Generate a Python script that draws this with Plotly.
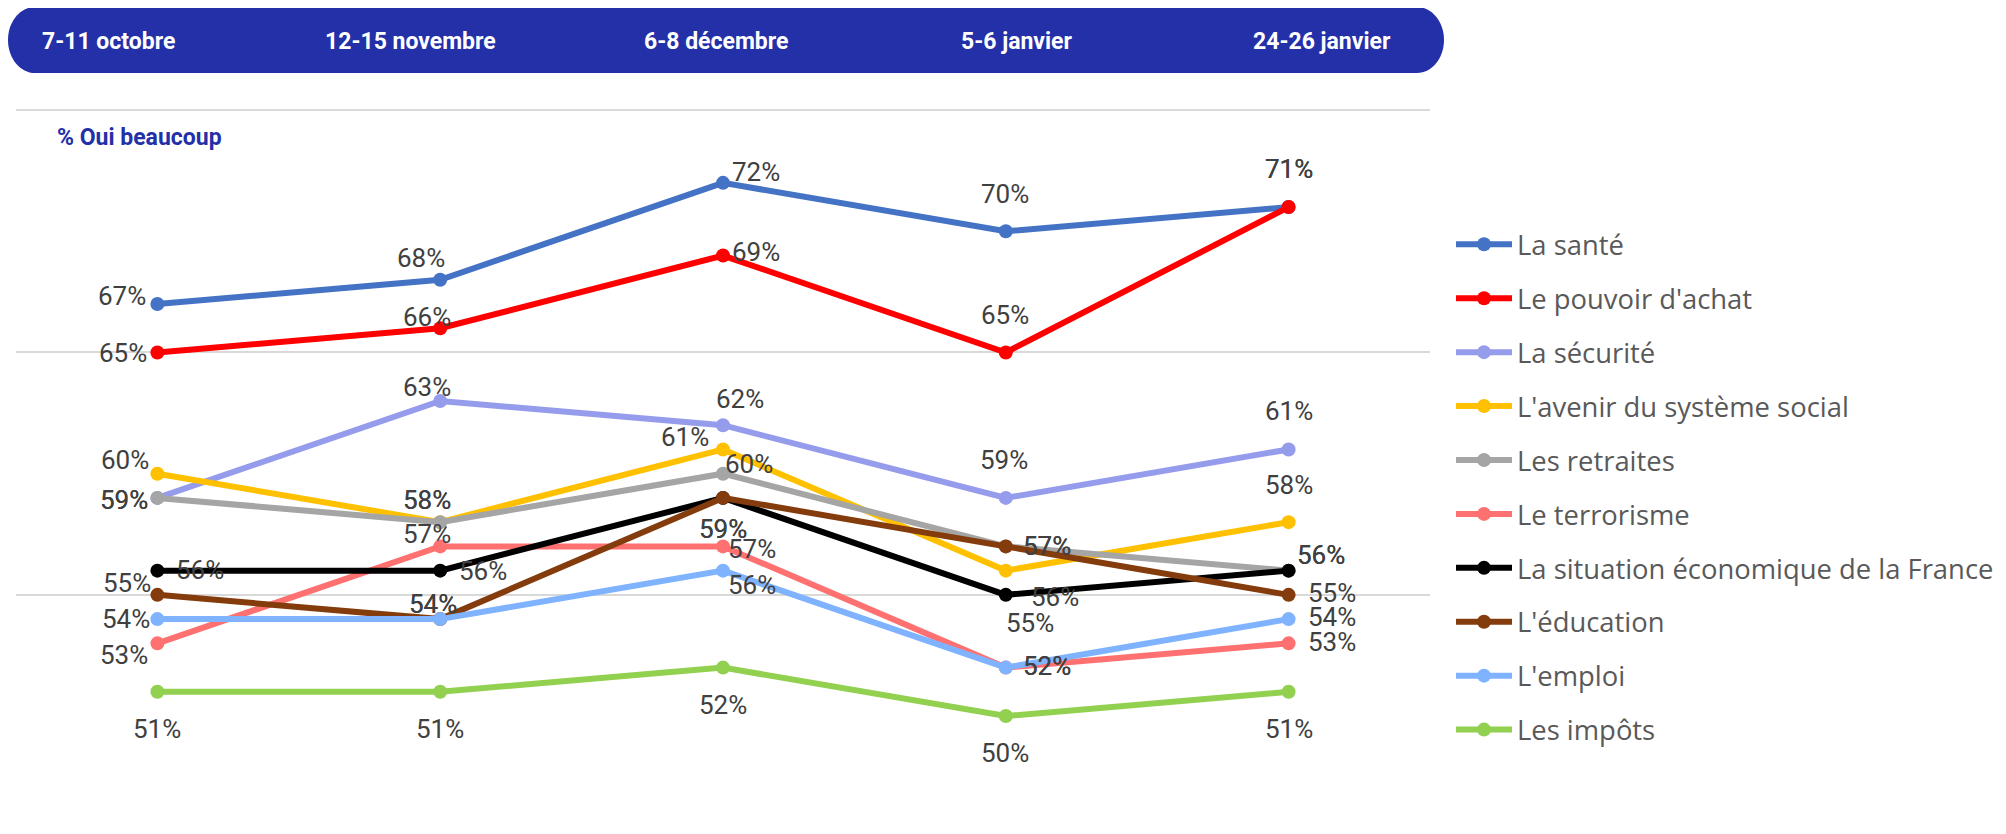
import plotly.graph_objects as go

# ---------------- data ----------------
categories = ["7-11 octobre", "12-15 novembre", "6-8 décembre", "5-6 janvier", "24-26 janvier"]
series_names = ["La santé", "Le pouvoir d'achat", "La sécurité", "L'avenir du système social",
                "Les retraites", "Le terrorisme", "La situation économique de la France",
                "L'éducation", "L'emploi", "Les impôts"]
sante = [67, 68, 72, 70, 71]
pouvoir_achat = [65, 66, 69, 65, 71]
securite = [59, 63, 62, 59, 61]
avenir_social = [60, 58, 61, 56, 58]
retraites = [59, 58, 60, 57, 56]
terrorisme = [53, 57, 57, 52, 53]
situation_eco = [56, 56, 59, 55, 56]
education = [55, 54, 59, 57, 55]
emploi = [54, 54, 56, 52, 54]
impots = [51, 51, 52, 50, 51]
values = [sante, pouvoir_achat, securite, avenir_social, retraites,
          terrorisme, situation_eco, education, emploi, impots]
subtitle = "% Oui beaucoup"

# ---------------- style ----------------
colors = ["#4472C4", "#FF0000", "#969CEC", "#FFC000", "#A5A5A5",
          "#FF7171", "#000000", "#843C0C", "#80B3FF", "#92D050"]
# label centre offsets in pixels (dx right, dy down) relative to each point
label_offsets = [
    [(-35, -8.5), (-19, -22), (33, -11), (-1, -37.5), (0, -38.5)],
    [(-34.5, 1), (-13.5, -11.5), (33, -3.5), (-1, -37.5), (0, -38.5)],
    [(-33, 2), (-13.5, -14), (17, -26), (-1.5, -38), (0, -38)],
    [(-32, -14), (-13.5, -22.5), (-38.5, -12.5), (49, 26), (0, -37.5)],
    [(-33, 2), (-13.5, -22.5), (25.5, -10), (41, 0), (32.5, -16)],
    [(-33, 11.5), (-13.5, -12), (28.5, 2.5), (41, -1.5), (43, -1)],
    [(43, -1), (42.5, 0), (0, 31), (24, 28.5), (32.5, -16)],
    [(-30, -11.5), (-7.5, -15), (0, 31), (41, 0), (43, -1.5)],
    [(-31, 0), (-7.5, -15), (28.5, 14), (41, -1.5), (43, -2.5)],
    [(0, 37), (0, 37), (0, 37), (-1, 37), (0, 37)],
]
# the page adds an 8px body margin; figure is sized so that it fits the 2006x834 window
OFF = 8
W, H = 2006 - 2 * OFF, 834 - 2 * OFF
PL, PR, PT, PB = 16 - OFF, 1430 - OFF, 98 - OFF, 813 - OFF   # plot area in figure pixels
header_x_px = [108 - OFF, 410 - OFF, 716 - OFF, 1017 - OFF, 1322 - OFF]
header_y_px = 41 - OFF
header_color = "#2330A8"
label_font = "Roboto, Liberation Sans, sans-serif"


def px_to_paper(x, y):
    return (x - PL) / (PR - PL), (PB - y) / (PB - PT)


fig = go.Figure()
for name, vals, col in zip(series_names, values, colors):
    fig.add_trace(go.Scatter(
        x=categories, y=vals, name=name, mode="lines+markers",
        line=dict(color=col, width=6), marker=dict(color=col, size=14),
        legendgroup=name, cliponaxis=False, hoverinfo="skip"))

annotations = []
for vals, offs in zip(values, label_offsets):
    for cat, v, (dx, dy) in zip(categories, vals, offs):
        annotations.append(dict(
            x=cat, y=v, xref="x", yref="y", text=f"{v}%", showarrow=False,
            xanchor="center", yanchor="middle", xshift=dx, yshift=-dy,
            font=dict(family=label_font, size=26, color="#404040")))

# header labels
for cat, hx in zip(categories, header_x_px):
    px, py = px_to_paper(hx, header_y_px)
    annotations.append(dict(
        x=px, y=py, xref="paper", yref="paper", text=f"<b>{cat}</b>", showarrow=False,
        xanchor="center", yanchor="middle",
        font=dict(family=label_font, size=23, color="white")))

# subtitle
sx, sy = px_to_paper(55 - OFF, 137 - OFF)
annotations.append(dict(
    x=sx, y=sy, xref="paper", yref="paper", text=f"<b>{subtitle}</b>", showarrow=False,
    xanchor="left", yanchor="middle", font=dict(family=label_font, size=23, color=header_color)))

# header pill shape
x0, x1, y0, y1 = 0, 1444 - OFF, 7 - OFF, 73 - OFF
rx, ry = 27, (y1 - y0) / 2
ym = (y0 + y1) / 2
k = 0.5523
pts = [
    ("M", [(x0 + rx, y0)]),
    ("L", [(x1 - rx, y0)]),
    ("C", [(x1 - rx + k * rx, y0), (x1, ym - k * ry), (x1, ym)]),
    ("C", [(x1, ym + k * ry), (x1 - rx + k * rx, y1), (x1 - rx, y1)]),
    ("L", [(x0 + rx, y1)]),
    ("C", [(x0 + rx - k * rx, y1), (x0, ym + k * ry), (x0, ym)]),
    ("C", [(x0, ym - k * ry), (x0 + rx - k * rx, y0), (x0 + rx, y0)]),
]
path = ""
for cmd, plist in pts:
    coords = " ".join("%.6f,%.6f" % px_to_paper(a, b) for a, b in plist)
    path += f"{cmd}{coords} "
path += "Z"

fig.update_layout(
    width=W, height=H,
    margin=dict(l=PL, r=W - PR, t=PT, b=H - PB),
    paper_bgcolor="white", plot_bgcolor="white",
    xaxis=dict(range=[-0.5, 4.5], showgrid=False, showticklabels=False,
               zeroline=False, showline=False, ticks=""),
    yaxis=dict(range=[46, 75.5], tick0=45, dtick=10, showgrid=True,
               gridcolor="#D9D9D9", gridwidth=1.5, showticklabels=False,
               zeroline=False, showline=False, ticks=""),
    shapes=[dict(type="path", xref="paper", yref="paper", path=path,
                 fillcolor=header_color, line=dict(width=0), layer="above")],
    annotations=annotations,
    showlegend=True,
    legend=dict(xref="container", yref="container", x=(1451 - OFF) / W, y=1 - (220 - OFF) / H,
                xanchor="left", yanchor="top", itemwidth=56, tracegroupgap=15.3, maxheight=780,
                font=dict(family="Open Sans, Noto Sans, sans-serif", size=27.4, color="#595959"),
                bgcolor="rgba(0,0,0,0)", itemclick=False, itemdoubleclick=False),
)

fig.write_html("out.html")
